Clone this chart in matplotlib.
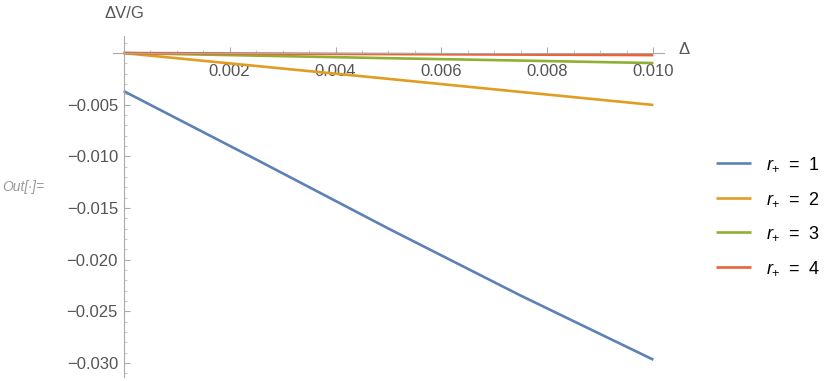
import matplotlib
matplotlib.use("Agg")
import matplotlib.pyplot as plt
from matplotlib.ticker import MultipleLocator, FixedLocator

plt.rcParams['font.family'] = ['Liberation Sans', 'DejaVu Sans']
plt.rcParams['mathtext.fontset'] = 'custom'
plt.rcParams['mathtext.rm'] = 'Liberation Sans'
plt.rcParams['mathtext.it'] = 'Liberation Sans:italic'

delta = [0.0, 0.0025, 0.005, 0.0075, 0.010]
series = {
    "1": [-0.00368, -0.0103, -0.0170, -0.0235, -0.0297],
    "2": [0.0, -0.00125, -0.0025, -0.00377, -0.00503],
    "3": [0.0, -0.00025, -0.0005, -0.00073, -0.00097],
    "4": [0.0, -0.00005, -0.0001, -0.00015, -0.0002],
}
colors = ["#5E81B5", "#E19C24", "#8FB032", "#EB6235"]
xticks = [0.002, 0.004, 0.006, 0.008, 0.010]
xticklabels = ["0.002", "0.004", "0.006", "0.008", "0.010"]
yticks = [-0.005, -0.010, -0.015, -0.020, -0.025, -0.030]
yticklabels = ["\u22120.005", "\u22120.010", "\u22120.015", "\u22120.020", "\u22120.025", "\u22120.030"]

W, H = 830, 381
fig = plt.figure(figsize=(W/100, H/100), dpi=100)
ax = fig.add_axes([113/W, 1-377/H, (664-113)/W, (377-36)/H])

for (name, vals), c in zip(series.items(), colors):
    ax.plot(delta, vals, color=c, lw=1.9, label=r"$r_{+}$" + "\u2002=\u2002" + name, solid_capstyle='butt')

ax.set_xlim(-0.0002, 0.0102)
ax.set_ylim(-0.03137, 0.00165)

for s in ['top', 'right']:
    ax.spines[s].set_visible(False)
ax.spines['bottom'].set_position(('data', 0))
ax.spines['left'].set_position(('data', 0))
for s in ['bottom', 'left']:
    ax.spines[s].set_color('#aaaaaa')
    ax.spines[s].set_linewidth(0.8)

ax.xaxis.set_major_locator(FixedLocator(xticks))
ax.set_xticklabels(xticklabels)
ax.xaxis.set_minor_locator(MultipleLocator(0.0005))
ax.yaxis.set_major_locator(FixedLocator(yticks))
ax.set_yticklabels(yticklabels)
ax.yaxis.set_minor_locator(MultipleLocator(0.001))

ax.tick_params(axis='x', which='major', direction='in', length=4.5, width=0.8, color='#aaaaaa',
               labelsize=12, labelcolor='#555555', pad=8)
ax.tick_params(axis='x', which='minor', direction='in', length=2.5, width=0.6, color='#bbbbbb')
ax.tick_params(axis='y', which='major', direction='in', length=4.5, width=0.8, color='#aaaaaa',
               labelsize=12, labelcolor='#555555', pad=4)
ax.tick_params(axis='y', which='minor', direction='in', length=2.5, width=0.6, color='#bbbbbb')

fig.text(124/W, 1-14/H, "\u0394V/G", ha='center', va='center', fontsize=12, color='#555555')
fig.text(684/W, 1-50/H, "\u0394", ha='center', va='center', fontsize=12, color='#555555')
fig.text(2/W, 1-187/H, "Out[\u2219]=", ha='left', va='center', fontsize=10, color='#999999', style='italic')

leg = fig.legend(loc='upper left', bbox_to_anchor=(700/W, 1-139/H), frameon=False,
                 fontsize=13, handlelength=1.9, labelspacing=0.92, handletextpad=0.85)

fig.savefig("out.png", dpi=100)
